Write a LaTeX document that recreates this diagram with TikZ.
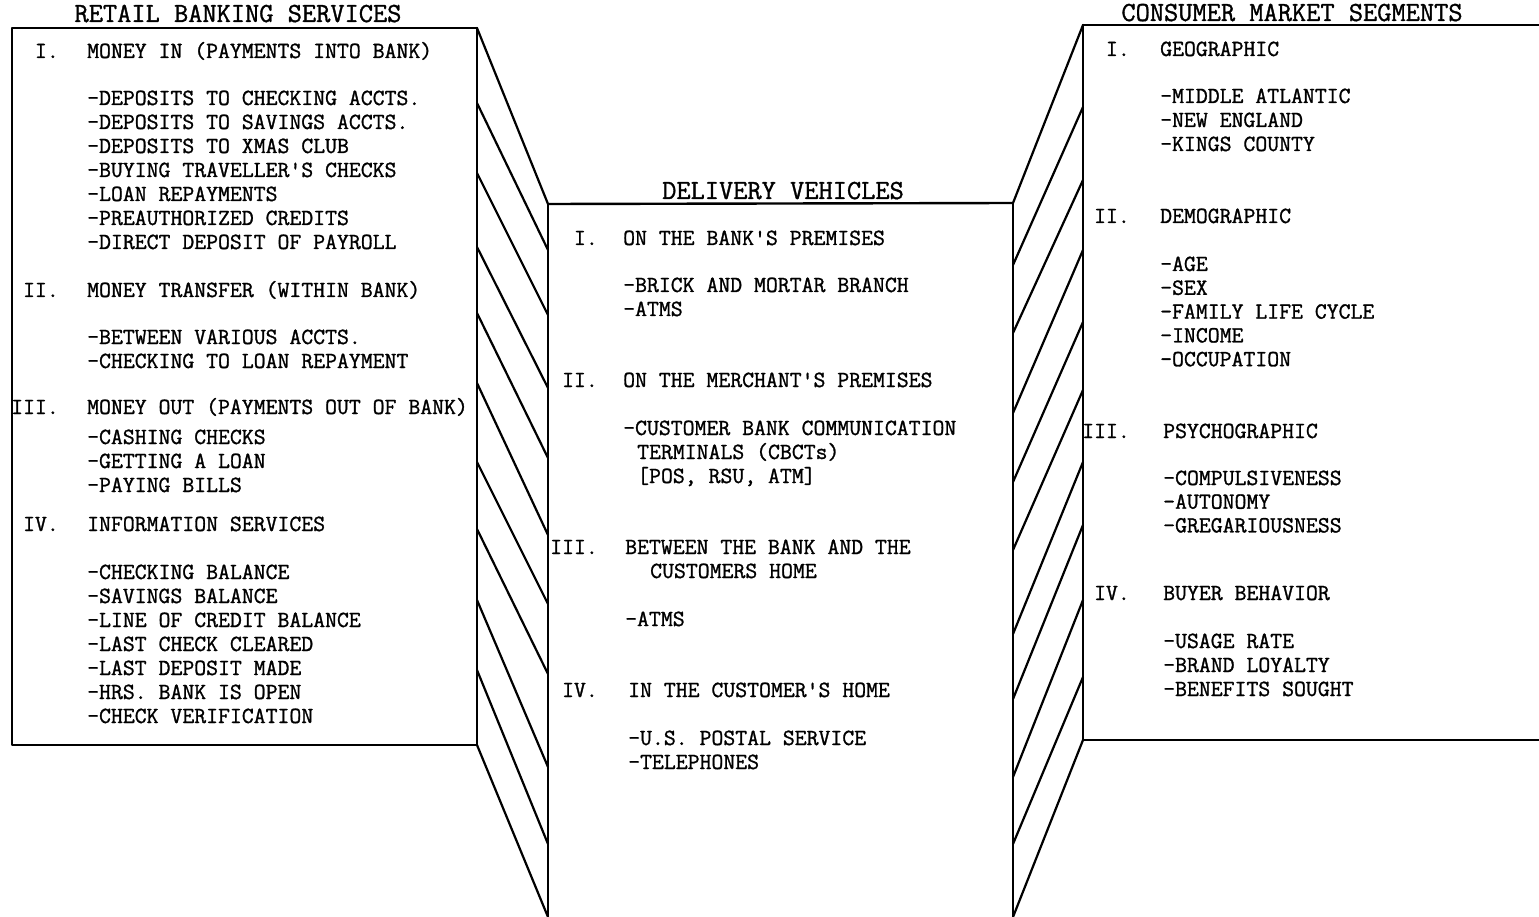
\documentclass[tikz,border=0pt]{standalone}
\usepackage{fontspec}
\newfontfamily\tw{Latin Modern Mono}[FakeBold=1.2]
\begin{document}
\begin{tikzpicture}[x=1pt, y=-1pt,
    frame/.style={line width=2.4pt, line join=round, line cap=round},
    hatch/.style={line width=2.2pt, line cap=round},
    title/.style={font=\tw\fontsize{27.6}{30}\selectfont, inner sep=0pt, anchor=base},
    num/.style={font=\tw\fontsize{23.1}{26}\selectfont, inner sep=0pt, anchor=base east},
    item/.style={font=\tw\fontsize{23.1}{26}\selectfont, inner sep=0pt, anchor=base west}
]
\useasboundingbox (0,0) rectangle (1539,917);

% boxes
\draw[frame] (477,28) -- (12,28) -- (12,745) -- (477,745);
\draw[frame] (548,204) -- (1013,203);
\draw[frame] (1539,25) -- (1083,25);
\draw[frame] (1083,740) -- (1539,740);

% left band
\draw[frame] (477,28) -- (477,745);
\draw[frame] (548,204) -- (548,917);
\foreach \a/\b in {28/204, 103/250, 173/315, 247/388, 313/458, 383/535,
                   462/604, 529/674, 600/767, 670/844, 745/917}
  \draw[hatch] (477,\a) -- (548,\b);

% right band
\draw[frame] (1013,203) -- (1013,917);
\draw[frame] (1083,25) -- (1083,740);
\foreach \a/\b in {203/25, 265/107, 333/180, 413/250, 482/322, 550/390,
                   634/462, 699/525, 777/600, 844/677, 917/740}
  \draw[hatch] (1013,\a) -- (1083,\b);

% titles
\node[title] (retail) at (238,22) {RETAIL BANKING SERVICES};
\node[title] (deliv) at (783,199) {DELIVERY VEHICLES};
\node[title] (market) at (1292,21) {CONSUMER MARKET SEGMENTS};

% retail banking services
\node[num] (rn1) at (59,58) {I.};
\node[item] (rh1) at (87,58) {MONEY IN (PAYMENTS INTO BANK)};
\foreach \t [count=\i from 0] in {-DEPOSITS TO CHECKING ACCTS., -DEPOSITS TO SAVINGS ACCTS.,
    -DEPOSITS TO XMAS CLUB, -BUYING TRAVELLER'S CHECKS, -LOAN REPAYMENTS,
    -PREAUTHORIZED CREDITS, -DIRECT DEPOSIT OF PAYROLL}
  \node[item] (ra\i) at (87,105+24*\i) {\t};
\node[num] (rn2) at (59,297) {II.};
\node[item] (rh2) at (87,297) {MONEY TRANSFER (WITHIN BANK)};
\foreach \t [count=\i from 0] in {-BETWEEN VARIOUS ACCTS., -CHECKING TO LOAN REPAYMENT}
  \node[item] (rb\i) at (87,344+24*\i) {\t};
\node[num] (rn3) at (59,414) {III.};
\node[item] (rh3) at (87,414) {MONEY OUT (PAYMENTS OUT OF BANK)};
\foreach \t [count=\i from 0] in {-CASHING CHECKS, -GETTING A LOAN, -PAYING BILLS}
  \node[item] (rc\i) at (87,444+24*\i) {\t};
\node[num] (rn4) at (59,531) {IV.};
\node[item] (rh4) at (87,531) {INFORMATION SERVICES};
\foreach \t [count=\i from 0] in {-CHECKING BALANCE, -SAVINGS BALANCE, -LINE OF CREDIT BALANCE,
    -LAST CHECK CLEARED, -LAST DEPOSIT MADE, -HRS. BANK IS OPEN, -CHECK VERIFICATION}
  \node[item] (rd\i) at (87,579+24*\i) {\t};

% delivery vehicles
\node[num] (dn1) at (598,245) {I.};
\node[item] (dh1) at (623,245) {ON THE BANK'S PREMISES};
\node[item] (da0) at (623,292) {-BRICK AND MORTAR BRANCH};
\node[item] (da1) at (623,316) {-ATMS};
\node[num] (dn2) at (598,387) {II.};
\node[item] (dh2) at (623,387) {ON THE MERCHANT'S PREMISES};
\node[item] (db0) at (623,435) {-CUSTOMER BANK COMMUNICATION};
\node[item] (db1) at (637,459) {TERMINALS (CBCTs)};
\node[item] (db2) at (637,483) {[POS, RSU, ATM]};
\node[num] (dn3) at (598,554) {III.};
\node[item] (dh3) at (625,554) {BETWEEN THE BANK AND THE};
\node[item] (dh3b) at (650,578) {CUSTOMERS HOME};
\node[item] (dc0) at (625,626) {-ATMS};
\node[num] (dn4) at (598,697) {IV.};
\node[item] (dh4) at (628,697) {IN THE CUSTOMER'S HOME};
\node[item] (dd0) at (628,745) {-U.S. POSTAL SERVICE};
\node[item] (dd1) at (628,769) {-TELEPHONES};

% consumer market segments
\node[num] (mn1) at (1130,56) {I.};
\node[item] (mh1) at (1160,56) {GEOGRAPHIC};
\foreach \t [count=\i from 0] in {-MIDDLE ATLANTIC, -NEW ENGLAND, -KINGS COUNTY}
  \node[item] (ma\i) at (1160,103+24*\i) {\t};
\node[num] (mn2) at (1130,223) {II.};
\node[item] (mh2) at (1160,223) {DEMOGRAPHIC};
\foreach \t [count=\i from 0] in {-AGE, -SEX, -FAMILY LIFE CYCLE, -INCOME, -OCCUPATION}
  \node[item] (mb\i) at (1160,271+23.8*\i) {\t};
\node[num] (mn3) at (1130,438) {III.};
\node[item] (mh3) at (1163,438) {PSYCHOGRAPHIC};
\foreach \t [count=\i from 0] in {-COMPULSIVENESS, -AUTONOMY, -GREGARIOUSNESS}
  \node[item] (mc\i) at (1163,485+23.7*\i) {\t};
\node[num] (mn4) at (1130,600) {IV.};
\node[item] (mh4) at (1163,600) {BUYER BEHAVIOR};
\foreach \t [count=\i from 0] in {-USAGE RATE, -BRAND LOYALTY, -BENEFITS SOUGHT}
  \node[item] (md\i) at (1163,648+24*\i) {\t};
\end{tikzpicture}
\end{document}
